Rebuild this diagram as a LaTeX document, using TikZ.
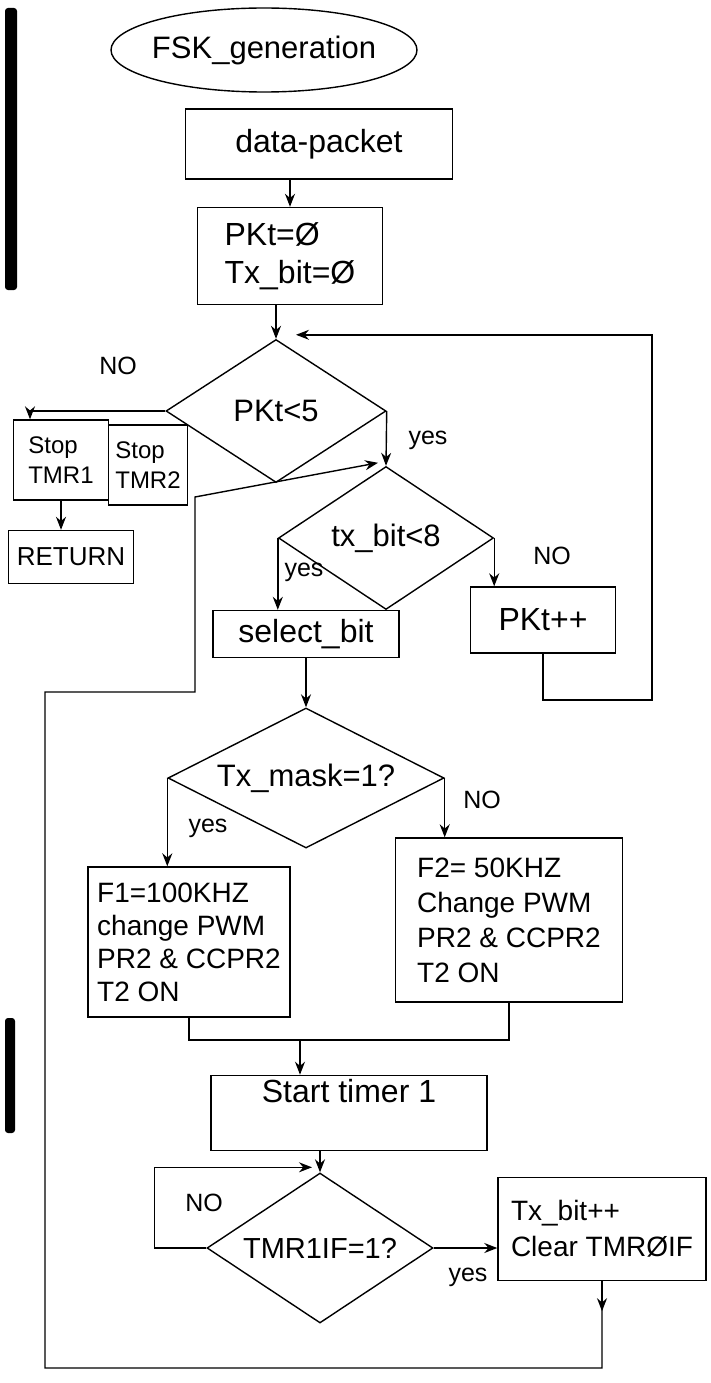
\documentclass[tikz,border=0pt]{standalone}
\usepackage{fontspec}
\setmainfont{Liberation Sans}
\usetikzlibrary{shapes.geometric,arrows.meta,calc}
\begin{document}
\begin{tikzpicture}[x=1pt,y=-1pt,
  box/.style={draw, line width=1.4pt, inner sep=4pt, align=left, font=\fontsize{32}{38}\selectfont},
  dia/.style={draw, diamond, aspect=1.6, line width=1.4pt, inner sep=0pt, font=\fontsize{31}{36}\selectfont},
  oval/.style={draw, ellipse, line width=1.4pt, inner xsep=-20pt, inner ysep=0pt, font=\fontsize{31}{34}\selectfont},
  arr/.style={-{Stealth[length=13pt,width=10pt]}, line width=1.4pt},
  ln/.style={line width=1.4pt},
  lbl/.style={font=\fontsize{25}{28}\selectfont, inner sep=1pt}]
\useasboundingbox (0,0) rectangle (710,1383);
% scanner edge marks
\fill[black, rounded corners=3pt] (5,8) rectangle (17,290);
\fill[black, rounded corners=3pt] (5,1018) rectangle (15,1133);

% nodes
\node[oval, minimum width=306, minimum height=84] (start) at (264,50) {FSK\_generation};
\node[box, minimum width=267, minimum height=70, align=center] (data) at (319,144) {data-packet};
\node[box, minimum width=185, minimum height=97] (init) at (290,256) {PKt=Ø\\Tx\_bit=Ø};
\node[dia, minimum width=220, minimum height=143] (pkt) at (276,411) {PKt<5};
\node[box, minimum width=95, minimum height=80, font=\fontsize{24}{30}\selectfont] (st1) at (61,460) {Stop\\TMR1};
\node[box, minimum width=79, minimum height=80, font=\fontsize{24}{30}\selectfont] (st2) at (148,465) {Stop\\TMR2};
\node[box, minimum width=125, minimum height=53, font=\fontsize{26}{30}\selectfont] (ret) at (71,557) {RETURN};
\node[dia, minimum width=215, minimum height=143] (txd) at (386,538) {tx\_bit<8};
\node[box, minimum width=186, minimum height=47, align=center] (sel) at (306,634) {select\_bit};
\node[box, minimum width=145, minimum height=66, align=center] (inc) at (543,620) {PKt++};
\node[dia, aspect=2, minimum width=276, minimum height=140] (msk) at (306,778) {Tx\_mask=1?};
\node[box, minimum width=202, minimum height=150, font=\fontsize{28}{33}\selectfont] (f1) at (189,942) {F1=100KHZ\\change PWM\\PR2 \& CCPR2\\T2 ON};
\node[box, minimum width=227, minimum height=164, font=\fontsize{28}{35}\selectfont] (f2) at (509,920) {F2= 50KHZ\\Change PWM\\PR2 \& CCPR2\\T2 ON};
\node[box, minimum width=276, minimum height=70, align=center] (tim) at (349,1113) {Start timer 1\\[6pt]};
\node[dia, aspect=1.5, minimum width=226, minimum height=150, font=\fontsize{29}{34}\selectfont] (tmd) at (320,1248) {TMR1IF=1?};
\node[box, minimum width=208, minimum height=103, font=\fontsize{28}{36}\selectfont] (done) at (602,1229) {Tx\_bit++\\Clear TMRØIF};

% labels
\node[lbl] (lno1) at (118,366) {NO};
\node[lbl] (lyes1) at (428,440) {yes};
\node[lbl] (lyes2) at (304,572) {yes};
\node[lbl] (lno2) at (552,556) {NO};
\node[lbl] (lyes3) at (208,828) {yes};
\node[lbl] (lno3) at (482,800) {NO};
\node[lbl] (lno4) at (204,1203) {NO};
\node[lbl] (lyes4) at (468,1277) {yes};

% helper coordinates
\coordinate (pj) at ($(pkt.north)+(20,-4)$);
\coordinate (txj) at ($(txd.north)+(-8,-3)$);
\coordinate (tj) at ($(tmd.north)+(-8,-5)$);
\coordinate (nl) at (30,382);
\coordinate (rr) at (652,700);
\coordinate (mj) at (300,1040);
\coordinate (lb) at (45,1368);
\coordinate (lm) at (45,692);
\coordinate (lr) at (195,692);
\coordinate (lu) at (195,497);
\coordinate (tl) at ($(tmd.west)+(-52,0)$);

% connectors
\draw[arr] (data.south -| init.north) -- (init.north);
\draw[arr] (init.south -| pkt.north) -- (pkt.north);
\draw[arr] (pkt.west) -- (pkt.west -| nl) -- (nl |- st1.north);
\draw[arr] (st1.south) -- (st1.south |- ret.north);
\draw[arr] (pkt.east) -- (txd.north);
\draw[arr] (txd.west) -- (txd.west |- sel.north);
\draw[arr] (txd.east) -- (txd.east |- inc.north);
\draw[arr] (inc.south) |- (rr) |- (pj);
\draw[arr] (sel.south) -- (msk.north);
\draw[arr] (msk.west) -- (msk.west |- f1.north);
\draw[arr] (msk.east) -- (msk.east |- f2.north);
\draw[ln] (f1.south) |- (mj) -| (f2.south);
\draw[arr] (mj) -- (mj |- tim.north);
\draw[arr] (tmd.north |- tim.south) -- (tmd.north);
\draw[arr] (tmd.west) -- (tl) |- (tj);
\draw[arr] (tmd.east) -- (tmd.east -| done.west);
\draw[arr] (done.south) -- ++(0,30);
\draw[arr] (done.south) |- (lb) -- (lm) -- (lr) -- (lu) -- (txj);
\end{tikzpicture}
\end{document}
